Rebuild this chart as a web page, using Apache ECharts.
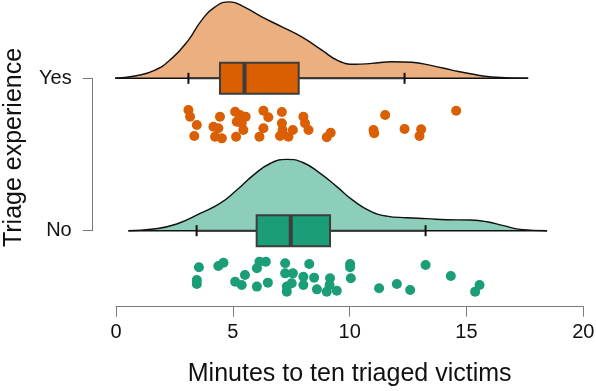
<!DOCTYPE html>
<html>
<head>
<meta charset="utf-8">
<script src="https://cdn.jsdelivr.net/npm/echarts@6/dist/echarts.min.js"></script>
<style>
html,body{margin:0;padding:0;background:#fff;}
#chart{width:596px;height:391px;}
</style>
</head>
<body>
<div id="chart"></div>
<script>
// ---- data ----
const categories = ['No', 'Yes'];          // y positions 0, 1
const xTicks = [0, 5, 10, 15, 20];

// density curves (x in minutes, height in category units)
const yesDensX = [-0.04, 0.81, 1.67, 2.39, 3.10, 3.67, 4.24, 4.88, 5.52, 6.24, 7.10, 7.95, 8.81, 9.52, 10.24, 10.95, 11.81, 12.66, 13.52, 14.38, 15.23, 16.09, 17.64];
const yesDensH = [0, 0.015, 0.054, 0.131, 0.251, 0.382, 0.469, 0.502, 0.465, 0.403, 0.338, 0.272, 0.185, 0.115, 0.092, 0.098, 0.109, 0.105, 0.083, 0.054, 0.028, 0.009, 0];
const noDensX = [0.53, 1.60, 2.60, 3.60, 4.45, 5.17, 5.88, 6.60, 7.31, 8.02, 8.74, 9.45, 10.16, 10.88, 11.59, 12.45, 13.31, 14.16, 15.16, 15.88, 16.59, 17.30, 18.45];
const noDensH = [0, 0.011, 0.044, 0.113, 0.179, 0.267, 0.365, 0.441, 0.468, 0.446, 0.376, 0.289, 0.197, 0.129, 0.096, 0.085, 0.079, 0.072, 0.070, 0.059, 0.033, 0.009, 0];

// box stats: [lowerWhisker, q1, median, q3, upperWhisker]
const yesBox = [3.10, 4.45, 5.50, 7.82, 12.35];
const noBox = [3.45, 6.02, 7.48, 9.16, 13.25];

// raw points: minutes and vertical jitter (below the category line)
const yesX = [3.10, 3.17, 3.46, 3.35, 4.45, 4.17, 4.38, 4.24, 4.53, 5.10, 5.31, 5.55, 5.17, 5.38, 5.45, 5.14, 6.31, 6.52, 6.31, 6.14, 7.10, 7.10, 7.13, 7.02, 7.38, 7.57, 8.02, 8.09, 8.24, 9.19, 9.02, 11.52, 11.02, 11.05, 12.35, 13.06, 12.99, 14.56];
const yesJit = [0.208, 0.252, 0.306, 0.379, 0.252, 0.318, 0.328, 0.383, 0.394, 0.219, 0.241, 0.252, 0.285, 0.295, 0.339, 0.383, 0.213, 0.256, 0.328, 0.383, 0.221, 0.295, 0.339, 0.379, 0.383, 0.339, 0.252, 0.295, 0.339, 0.357, 0.387, 0.241, 0.339, 0.361, 0.333, 0.335, 0.379, 0.213];
const noX = [3.55, 3.46, 3.46, 4.38, 4.60, 5.10, 5.52, 5.38, 6.03, 6.14, 6.41, 6.03, 6.50, 7.24, 7.24, 7.57, 7.31, 7.31, 7.52, 8.02, 8.02, 8.27, 8.48, 8.60, 9.16, 9.14, 9.02, 9.45, 10.02, 10.02, 10.05, 11.26, 12.02, 12.59, 13.25, 14.33, 15.56, 15.37];
const noJit = [0.240, 0.323, 0.350, 0.232, 0.210, 0.335, 0.291, 0.356, 0.247, 0.203, 0.203, 0.367, 0.341, 0.214, 0.280, 0.280, 0.367, 0.400, 0.345, 0.302, 0.356, 0.219, 0.308, 0.385, 0.312, 0.356, 0.400, 0.394, 0.219, 0.240, 0.312, 0.378, 0.350, 0.389, 0.225, 0.297, 0.356, 0.400];

// ---- styles ----
const ORANGE = '#D95F02', GREEN = '#1B9E77';
const ORANGE_FILL = 'rgba(217,95,2,0.5)', GREEN_FILL = 'rgba(27,158,119,0.5)';
const FONT = 'Liberation Sans, Arial, Helvetica, sans-serif';
const AXIS_GRAY = '#7a7a7a';

const yesPos = categories.indexOf('Yes');
const noPos = categories.indexOf('No');

function densData(xs, hs, pos) { return xs.map((x, i) => [x, pos + hs[i]]); }
function baseData(xs, pos) { return [[xs[0], pos], [xs[xs.length - 1], pos]]; }
function ptsData(xs, js, pos) { return xs.map((x, i) => [x, pos - js[i]]); }

function densSeries(xs, hs, pos, fill) {
  return {
    type: 'line', xAxisIndex: 0, yAxisIndex: 0,
    data: densData(xs, hs, pos), smooth: 0.5, showSymbol: false, clip: false,
    lineStyle: { color: '#111', width: 1.4 },
    areaStyle: { color: fill, opacity: 1, origin: pos },
    silent: true, z: 2
  };
}
function baseSeries(xs, pos) {
  return {
    type: 'line', data: baseData(xs, pos), showSymbol: false, clip: false,
    lineStyle: { color: '#111', width: 1.4 }, silent: true, z: 3
  };
}

const boxRender = function (params, api) {
  const pos = api.value(0);
  const lo = api.value(1), q1 = api.value(2), med = api.value(3), q3 = api.value(4), hi = api.value(5);
  const fill = api.value(6) === 1 ? ORANGE : GREEN;
  const p = (x) => api.coord([x, pos]);
  const halfH = api.size([0, 0.102])[1];
  const capH = 5.5;
  const pl = p(lo), p1 = p(q1), pm = p(med), p3 = p(q3), ph = p(hi);
  const dark = '#333';
  return {
    type: 'group',
    children: [
      { type: 'line', shape: { x1: pl[0], y1: pl[1], x2: ph[0], y2: ph[1] }, style: { stroke: dark, lineWidth: 2 } },
      { type: 'line', shape: { x1: pl[0], y1: pl[1] - capH, x2: pl[0], y2: pl[1] + capH }, style: { stroke: '#111', lineWidth: 2 } },
      { type: 'line', shape: { x1: ph[0], y1: ph[1] - capH, x2: ph[0], y2: ph[1] + capH }, style: { stroke: '#111', lineWidth: 2 } },
      { type: 'rect', shape: { x: p1[0], y: p1[1] - halfH, width: p3[0] - p1[0], height: 2 * halfH }, style: { fill: fill, stroke: '#3d3d3d', lineWidth: 2 } },
      { type: 'line', shape: { x1: pm[0], y1: pm[1] - halfH, x2: pm[0], y2: pm[1] + halfH }, style: { stroke: '#3d3d3d', lineWidth: 4 } }
    ]
  };
};

const chart = echarts.init(document.getElementById('chart'), null, { renderer: 'canvas' });
chart.setOption({
  animation: false,
  backgroundColor: '#fff',
  grid: [
    { left: 116, right: 12.7, top: 0, bottom: 96, containLabel: false, outerBoundsMode: 'none' },
    { left: 92.7, width: 1, top: 78.3, height: 152.4, containLabel: false, outerBoundsMode: 'none' }
  ],
  xAxis: [
    {
      gridIndex: 0, type: 'value', min: xTicks[0], max: xTicks[xTicks.length - 1], interval: 5,
      offset: 11.7,
      axisLine: { show: true, onZero: false, lineStyle: { color: AXIS_GRAY, width: 1 } },
      axisTick: { show: true, length: 10, lineStyle: { color: AXIS_GRAY, width: 1 } },
      axisLabel: { margin: 16, fontSize: 20, color: '#111', fontFamily: FONT, showMinLabel: true, showMaxLabel: true },
      splitLine: { show: false },
      name: 'Minutes to ten triaged victims', nameLocation: 'middle', nameGap: 55,
      nameTextStyle: { fontSize: 25, color: '#111', fontFamily: FONT }
    },
    { gridIndex: 1, type: 'value', show: false, min: 0, max: 1 }
  ],
  yAxis: [
    {
      gridIndex: 0, type: 'value', min: -0.422, max: 1.514,
      axisLine: { show: false, onZero: false }, axisTick: { show: false }, axisLabel: { show: false }, splitLine: { show: false },
      name: 'Triage experience', nameLocation: 'middle', nameGap: 89,
      nameTextStyle: { fontSize: 25, color: '#111', fontFamily: FONT }
    },
    {
      gridIndex: 1, type: 'value', min: 0, max: 1, interval: 1,
      axisLine: { show: true, onZero: false, lineStyle: { color: AXIS_GRAY, width: 1 } },
      axisTick: { show: true, length: 10, lineStyle: { color: AXIS_GRAY, width: 1 } },
      axisLabel: { margin: 21, fontSize: 20, color: '#111', fontFamily: FONT, formatter: (v) => categories[v] },
      splitLine: { show: false }
    }
  ],
  series: [
    densSeries(yesDensX, yesDensH, yesPos, ORANGE_FILL),
    baseSeries(yesDensX, yesPos),
    densSeries(noDensX, noDensH, noPos, GREEN_FILL),
    baseSeries(noDensX, noPos),
    {
      type: 'custom', renderItem: boxRender, clip: false, z: 4, silent: true,
      encode: { x: [1, 2, 3, 4, 5], y: 0 },
      data: [[yesPos].concat(yesBox, [1]), [noPos].concat(noBox, [0])]
    },
    {
      type: 'scatter', data: ptsData(yesX, yesJit, yesPos), symbolSize: 10,
      itemStyle: { color: ORANGE, opacity: 1 }, silent: true, z: 5
    },
    {
      type: 'scatter', data: ptsData(noX, noJit, noPos), symbolSize: 10,
      itemStyle: { color: GREEN, opacity: 1 }, silent: true, z: 5
    }
  ]
});
</script>
</body>
</html>
